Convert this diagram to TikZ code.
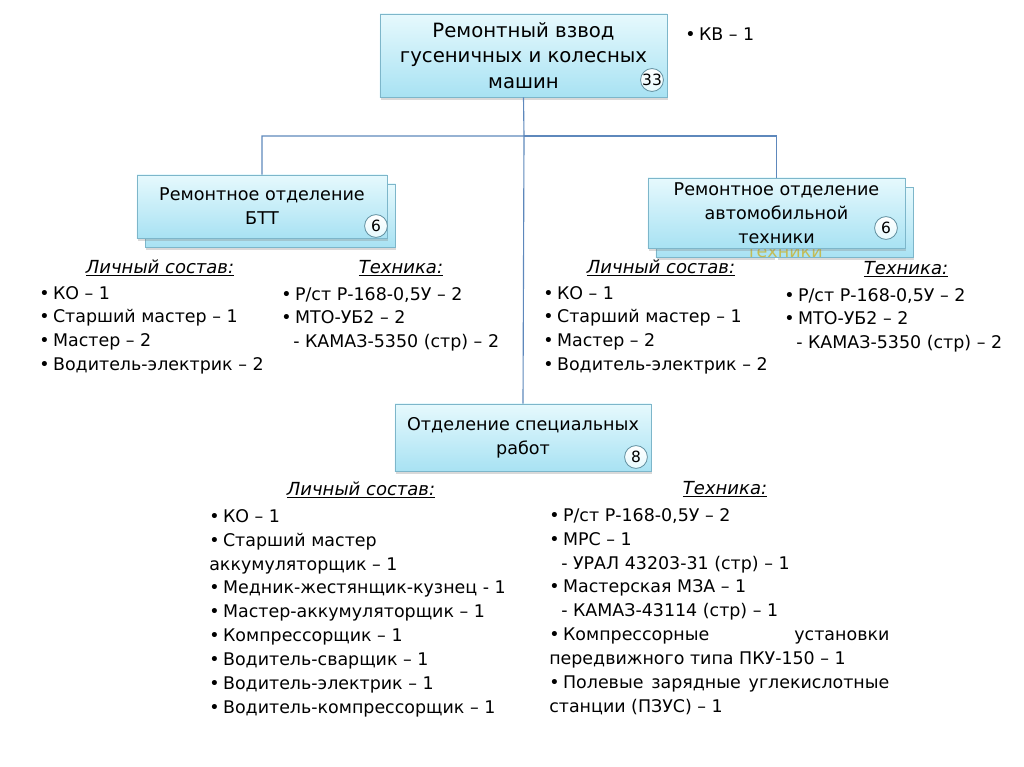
\documentclass[tikz,border=0pt]{standalone}
\usepackage{fontspec}
\setmainfont{DejaVu Sans}
\usetikzlibrary{positioning,shadows}

\definecolor{boxtop}{HTML}{E6F9FD}
\definecolor{boxbot}{HTML}{A8E2F3}
\definecolor{boxline}{HTML}{7DB6CA}
\definecolor{linkblue}{HTML}{5E88BC}
\definecolor{sepblue}{HTML}{A3BAD8}
\definecolor{ghost}{HTML}{C4BC55}

\newcommand{\itm}{•\hspace{2.5pt}}

\tikzset{
  box/.style={draw=boxline, line width=0.6pt, top color=boxtop, bottom color=boxbot,
    align=center, inner sep=2pt, font=\fontsize{12.5}{17.2}\selectfont,
    drop shadow={shadow xshift=0.6pt, shadow yshift=-1.8pt, opacity=0.3}},
  badge/.style={circle, draw=boxline!80!black, line width=0.6pt, top color=white, bottom color=boxtop,
    inner sep=0pt, minimum size=0.57cm, font=\fontsize{11}{12}\selectfont},
  link/.style={draw=linkblue, line width=0.8pt},
  sep/.style={draw=sepblue, line width=0.6pt, double=white, double distance=1.6pt},
  listtext/.style={anchor=north west, align=left, inner sep=0pt, font=\fontsize{12.4}{16.8}\selectfont},
  head/.style={inner sep=0pt, font=\fontsize{12.8}{14}\selectfont\itshape}
}

\begin{document}
\begin{tikzpicture}[x=0.025cm,y=-0.025cm]
\useasboundingbox (0,0) rectangle (1024,767);

% top unit
\node[box, minimum width=7.175cm, minimum height=2.075cm, font=\fontsize{14}{18.2}\selectfont] (vzvod) at (523.5,55.5)
  {Ремонтный взвод\\гусеничных и колесных\\машин};
\node[badge] (vzvod-n) at (652,80) {33};
\node[anchor=west, inner sep=0pt, font=\fontsize{12.4}{14}\selectfont] (kv) at (685,34) {\itm КВ – 1};

% BTT section
\node[box, minimum width=6.25cm, minimum height=1.575cm] (btt-back) at (270.5,215.5) {};
\node[box, minimum width=6.25cm, minimum height=1.575cm] (btt) at (262,206.5)
  {Ремонтное отделение\\БТТ};
\node[badge] (btt-n) at (376,226) {6};

% auto section
\node[box, minimum width=6.425cm, minimum height=1.75cm] (auto-back) at (784.5,222.5) {};
\begin{scope}
  \clip (640,248.6) rectangle (920,258);
  \node[text=ghost, font=\fontsize{12.5}{17.2}\selectfont] (auto-ghost) at (784.5,253) {техники};
\end{scope}
\node[box, minimum width=6.425cm, minimum height=1.75cm] (auto) at (776.5,213)
  {Ремонтное отделение\\автомобильной\\техники};
\node[badge] (auto-n) at (886,228) {6};

% special works
\node[box, minimum width=6.4cm, minimum height=1.675cm] (spec) at (523,437.5)
  {Отделение специальных\\работ};
\node[badge] (spec-n) at (636,457) {8};

% links
\coordinate (fork) at (524,136);
\draw[link] (vzvod.south) -- (fork) -| (btt.north);
\draw[link] (fork) -| (auto.north);
\draw[link] (fork) -- (spec.north);

% separators
\draw[sep] (269.5,261) -- (269.5,372);
\draw[sep] (776.5,258) -- (776.5,372);
\draw[sep] (526.5,482) -- (526.5,714);

% BTT lists
\node[head] (btt-staff-h) at (160,268) {\underline{Личный состав:}};
\node[listtext] (btt-staff) at (39,286)
  {\itm КО – 1\\\itm Старший мастер – 1\\\itm Мастер – 2\\\itm Водитель-электрик – 2};
\node[head] (btt-tech-h) at (401,268) {\underline{Техника:}};
\node[listtext] (btt-tech) at (281,287)
  {\itm Р/ст Р-168-0,5У – 2\\\itm МТО-УБ2 – 2\\\hspace*{0.3cm}- КАМАЗ-5350 (стр) – 2};

% auto lists
\node[head] (auto-staff-h) at (661,268) {\underline{Личный состав:}};
\node[listtext] (auto-staff) at (543,286)
  {\itm КО – 1\\\itm Старший мастер – 1\\\itm Мастер – 2\\\itm Водитель-электрик – 2};
\node[head] (auto-tech-h) at (906,269) {\underline{Техника:}};
\node[listtext] (auto-tech) at (784,288)
  {\itm Р/ст Р-168-0,5У – 2\\\itm МТО-УБ2 – 2\\\hspace*{0.3cm}- КАМАЗ-5350 (стр) – 2};

% special lists
\node[head] (spec-staff-h) at (361,490) {\underline{Личный состав:}};
\node[listtext, font=\fontsize{12.4}{17}\selectfont] (spec-staff) at (209,509)
  {\itm КО – 1\\\itm Старший мастер\\аккумуляторщик – 1\\\itm Медник-жестянщик-кузнец - 1\\\itm Мастер-аккумуляторщик – 1\\\itm Компрессорщик – 1\\\itm Водитель-сварщик – 1\\\itm Водитель-электрик – 1\\\itm Водитель-компрессорщик – 1};
\node[head] (spec-tech-h) at (725,489) {\underline{Техника:}};
\node[listtext, font=\fontsize{12.4}{17}\selectfont] (spec-tech) at (549,508)
  {\itm Р/ст Р-168-0,5У – 2\\\itm МРС – 1\\\hspace*{0.3cm}- УРАЛ 43203-31 (стр) – 1\\\itm Мастерская МЗА – 1\\\hspace*{0.3cm}- КАМАЗ-43114 (стр) – 1\\\makebox[8.5cm][s]{\itm Компрессорные установки}\\передвижного типа ПКУ-150 – 1\\\makebox[8.5cm][s]{\itm Полевые зарядные углекислотные}\\станции (ПЗУС) – 1};

\end{tikzpicture}
\end{document}
